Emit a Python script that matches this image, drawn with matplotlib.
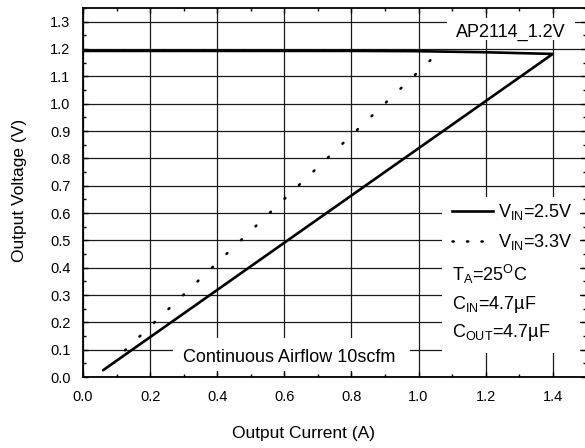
import numpy as np
import matplotlib
matplotlib.use("Agg")
import matplotlib.pyplot as plt
from matplotlib.lines import Line2D
from matplotlib.patches import Rectangle
from matplotlib.ticker import MultipleLocator

plt.rcParams['font.family'] = ['Liberation Sans', 'DejaVu Sans']
plt.rcParams['mathtext.fontset'] = 'custom'
plt.rcParams['mathtext.rm'] = 'Liberation Sans'
plt.rcParams['mathtext.it'] = 'Liberation Sans:italic'

# data
arus_25 = [0.0, 0.2, 0.4, 0.6, 0.8, 1.0, 1.2, 1.4, 0.06]          # V_IN = 2.5 V
tegangan_25 = [1.193, 1.193, 1.193, 1.193, 1.193, 1.192, 1.188, 1.182, 0.025]
arus_33 = [0.0, 0.5, 1.0, 1.045, 1.039, 0.104]                      # V_IN = 3.3 V
tegangan_33 = [1.195, 1.195, 1.194, 1.19, 1.163, 0.073]

x_ticks = [0.0, 0.2, 0.4, 0.6, 0.8, 1.0, 1.2, 1.4]
y_ticks = [0.0, 0.1, 0.2, 0.3, 0.4, 0.5, 0.6, 0.7, 0.8, 0.9, 1.0, 1.1, 1.2, 1.3]

# pixel helpers (figure is 585x448 at 100 dpi)
W, H = 503.3, 369.0
def fx(px):
    return (px - 83) / W
def fy(py):
    return (377 - py) / H

fig = plt.figure(figsize=(5.85, 4.48), dpi=100)
ax = fig.add_axes([83 / 585, (448 - 377) / 448, W / 585, H / 448])

ax.plot(arus_25, tegangan_25, c='black', lw=1.9, solid_capstyle='round', zorder=3)
ax.plot(arus_33, tegangan_33, c='black', lw=1.8, dashes=(0.5, 7.5),
        dash_capstyle='round', zorder=3)

ax.set_xlim(0, 1.5)
ax.set_ylim(0, 1.35)
ax.set_xticks(x_ticks)
ax.set_yticks(y_ticks)
ax.set_xticklabels([f"{v:.1f}" for v in x_ticks])
ax.set_yticklabels([f"{v:.1f}" for v in y_ticks])
ax.xaxis.set_minor_locator(MultipleLocator(0.1))
ax.yaxis.set_minor_locator(MultipleLocator(0.05))
ax.tick_params(which='both', direction='in', top=True, right=True, width=1, color='black')
ax.tick_params(which='major', length=3.6, labelsize=10.5, pad=9)
ax.tick_params(which='minor', length=2)
ax.grid(True, which='major', color='#1a1a1a', lw=0.9)
ax.set_axisbelow(True)
for s in ax.spines.values():
    s.set_linewidth(1.3)

ax.set_xlabel('Output Current (A)', fontsize=12.5)
ax.xaxis.label.set_va('center')
ax.xaxis.set_label_coords(fx(304), fy(433))
ax.set_ylabel('Output Voltage (V)', fontsize=12.5)
ax.yaxis.label.set_va('center')
ax.yaxis.set_label_coords(fx(20), fy(190))

# white boxes over the grid
kotak = dict(facecolor='white', edgecolor='none', transform=ax.transAxes, zorder=2.5)
ax.add_patch(Rectangle((fx(447), fy(40)), fx(575) - fx(447), fy(18) - fy(40), **kotak))
ax.add_patch(Rectangle((fx(442), fy(353)), fx(580) - fx(442), fy(197) - fy(353), **kotak))
ax.add_patch(Rectangle((fx(173), fy(371)), fx(410) - fx(173), fy(338) - fy(371), **kotak))

ax.text(fx(511), fy(36.7), 'AP2114_1.2V', transform=ax.transAxes, ha='center',
        va='baseline', fontsize=13, zorder=4)
ax.text(fx(288.7), fy(362.3), 'Continuous Airflow 10scfm', transform=ax.transAxes,
        ha='center', va='baseline', fontsize=13, zorder=4)

h1 = Line2D([], [], c='black', lw=1.9)
h2 = Line2D([], [], c='black', lw=1.8, dashes=(0.5, 5.3), dash_capstyle='round')
leg = ax.legend([h1, h2], [r'V$_\mathrm{IN}$=2.5V', r'V$_\mathrm{IN}$=3.3V'],
                loc='upper left', bbox_to_anchor=(fx(452), fy(202)),
                frameon=False, fontsize=13, handlelength=2.28, handletextpad=0.28,
                borderpad=0, borderaxespad=0, labelspacing=0.55)
leg.set_zorder(5)

kondisi = [r'T$_\mathrm{A}$=25$^\mathrm{O}$C', r'C$_\mathrm{IN}$=4.7µF', r'C$_\mathrm{OUT}$=4.7µF']
baris = [280.7, 309.3, 337.3]
for teks, py in zip(kondisi, baris):
    ax.text(fx(452), fy(py), teks, transform=ax.transAxes, ha='left', va='baseline',
            fontsize=13, zorder=4)

fig.savefig('out.png', dpi=100)
